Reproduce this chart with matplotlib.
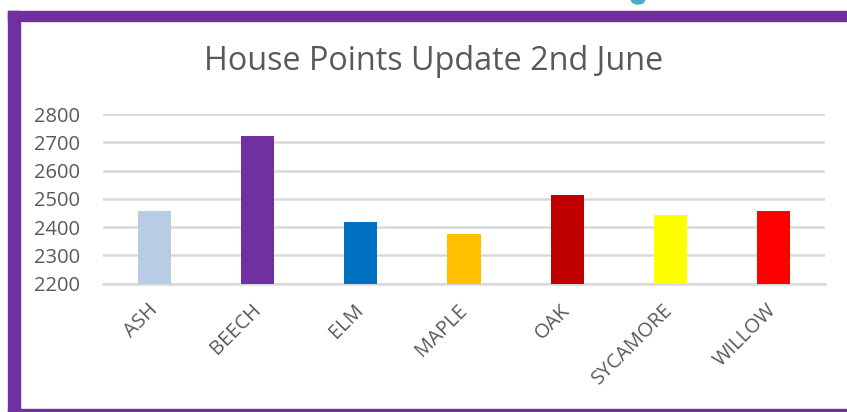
import matplotlib.pyplot as plt
from matplotlib.patches import Rectangle, Ellipse
import numpy as np

houses = ['ASH', 'BEECH', 'ELM', 'MAPLE', 'OAK', 'SYCAMORE', 'WILLOW']
points = [2456, 2722, 2418, 2376, 2514, 2444, 2458]
bar_colours = ['#B8CCE4', '#7030A0', '#0070C0', '#FFC000', '#C00000', '#FFFF00', '#FF0000']
y_ticks = [2200, 2300, 2400, 2500, 2600, 2700, 2800]


def main():
    plt.rcParams['font.family'] = ['Open Sans', 'DejaVu Sans']
    fig = plt.figure(figsize=(8.47, 4.12), dpi=100)

    # purple frame around the chart (right side runs off the picture)
    fig.patches.append(Rectangle((8 / 847, 0), 12 / 847, 401 / 412, transform=fig.transFigure,
                                 color='#7030A0', zorder=0))
    fig.patches.append(Rectangle((8 / 847, 391 / 412), 839 / 847, 10 / 412, transform=fig.transFigure,
                                 color='#7030A0', zorder=0))
    fig.patches.append(Rectangle((8 / 847, 0), 839 / 847, 3 / 412, transform=fig.transFigure,
                                 color='#7030A0', zorder=0))
    fig.patches.append(Ellipse((638 / 847, 1.0), 13 / 847, 8 / 412, transform=fig.transFigure,
                               color='#4BACC6', zorder=0))

    ax = fig.add_axes([103 / 847, 1 - 283.7 / 412, 722 / 847, 169.7 / 412])
    x = np.arange(len(houses))
    ax.bar(x, [p - 2200 for p in points], bottom=2200, width=0.32, color=bar_colours, zorder=3)

    ax.set_xlim(-0.5, len(houses) - 0.5)
    ax.set_ylim(2200, 2800)
    ax.set_yticks(y_ticks)
    ax.set_yticklabels([str(t) for t in y_ticks], fontsize=14.5, color='#595959')
    ax.set_xticks(x)
    ax.set_xticklabels(houses, rotation=45, ha='right', va='center', rotation_mode='anchor',
                       fontsize=14.5, color='#595959')
    ax.tick_params(length=0)
    ax.tick_params(axis='x', pad=17)
    ax.tick_params(axis='y', pad=16.5)

    ax.grid(axis='y', color='#D9D9D9', linewidth=1.8, zorder=0)
    for side in ['top', 'right', 'left']:
        ax.spines[side].set_visible(False)
    ax.spines['bottom'].set_color('#D9D9D9')
    ax.spines['bottom'].set_linewidth(1.8)

    fig.text(434 / 847, 1 - 62 / 412, 'House Points Update 2nd June', ha='center', va='center',
             fontsize=23.3, color='#595959')

    plt.savefig('out.png', dpi=100)


if (__name__ == "__main__"):
    main()
